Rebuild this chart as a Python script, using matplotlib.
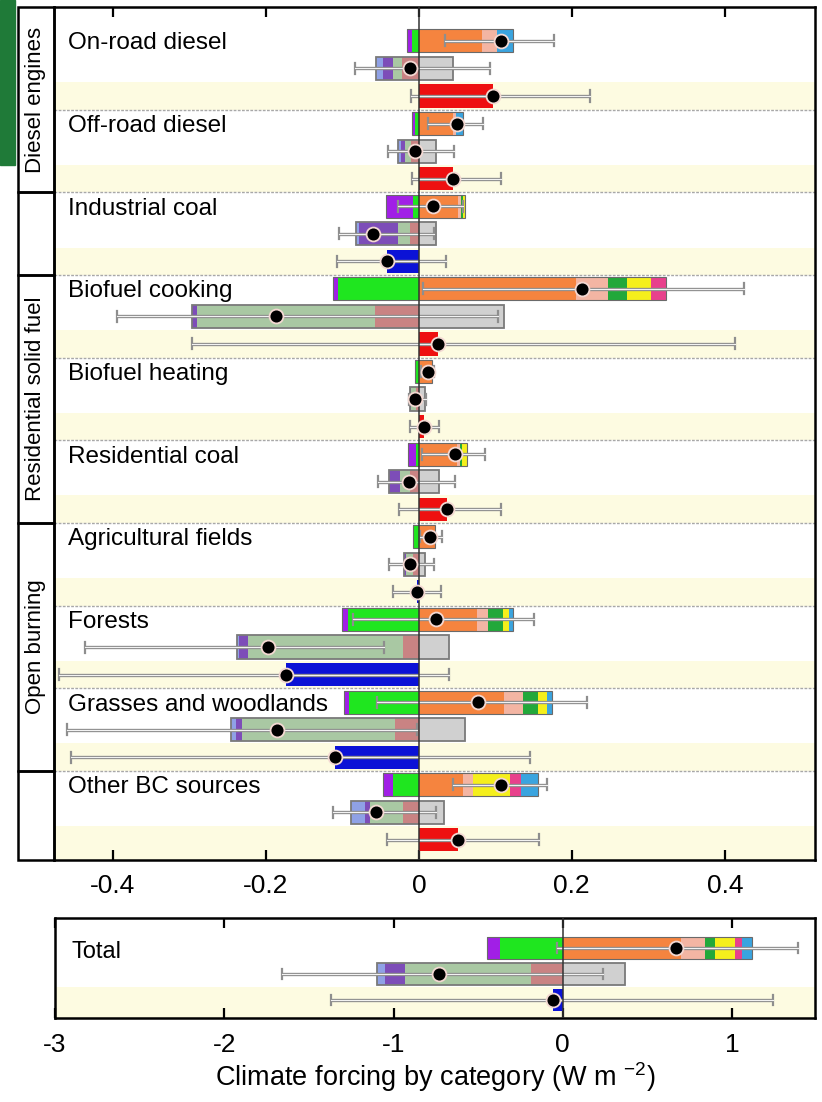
import matplotlib
matplotlib.use("Agg")
import matplotlib.pyplot as plt
from matplotlib.patches import Rectangle

plt.rcParams['font.family'] = ['Liberation Sans', 'DejaVu Sans']
plt.rcParams['mathtext.fontset'] = 'custom'
plt.rcParams['mathtext.rm'] = 'Liberation Sans'
plt.rcParams['axes.unicode_minus'] = False

categories = ["On-road diesel", "Off-road diesel", "Industrial coal", "Biofuel cooking",
              "Biofuel heating", "Residential coal", "Agricultural fields", "Forests",
              "Grasses and woodlands", "Other BC sources"]
groups = [("Diesel engines", 0, 2), ("", 2, 3), ("Residential solid fuel", 3, 6),
          ("Open burning", 6, 9), ("", 9, 10)]

# row 1 (widths of each stacked piece, W m-2), negative pieces from zero outwards
r1_green = [0.0095, 0.005, 0.008, 0.106, 0.004, 0.004, 0.007, 0.093, 0.091, 0.034]
r1_purple = [0.0062, 0.004, 0.035, 0.006, 0.001, 0.010, 0.001, 0.007, 0.007, 0.013]
r1_orange = [0.083, 0.045, 0.051, 0.206, 0.017, 0.050, 0.021, 0.076, 0.112, 0.058]
r1_pink = [0.019, 0.004, 0.004, 0.042, 0.0, 0.004, 0.0, 0.014, 0.024, 0.013]
r1_dkgreen = [0.0, 0.0, 0.003, 0.024, 0.0, 0.003, 0.0, 0.020, 0.020, 0.0]
r1_yellow = [0.0, 0.0, 0.003, 0.031, 0.0, 0.006, 0.0, 0.008, 0.011, 0.048]
r1_magenta = [0.0, 0.0, 0.0, 0.020, 0.0, 0.0, 0.0, 0.0, 0.0, 0.014]
r1_blue = [0.021, 0.009, 0.0, 0.0, 0.0, 0.0, 0.0, 0.005, 0.007, 0.023]
r1_mid = [0.107, 0.050, 0.018, 0.213, 0.012, 0.047, 0.014, 0.022, 0.077, 0.108]
r1_lo = [0.034, 0.012, -0.027, 0.005, 0.003, 0.004, 0.002, -0.086, -0.055, 0.045]
r1_hi = [0.177, 0.084, 0.058, 0.425, 0.020, 0.086, 0.030, 0.150, 0.220, 0.167]

# row 2
r2_rose = [0.022, 0.010, 0.012, 0.057, 0.004, 0.012, 0.007, 0.021, 0.031, 0.021]
r2_sage = [0.012, 0.008, 0.015, 0.233, 0.006, 0.013, 0.010, 0.203, 0.200, 0.043]
r2_purple = [0.013, 0.005, 0.051, 0.007, 0.002, 0.014, 0.002, 0.011, 0.008, 0.007]
r2_peri = [0.009, 0.004, 0.004, 0.0, 0.0, 0.0, 0.0, 0.003, 0.006, 0.018]
r2_gray = [0.045, 0.022, 0.023, 0.111, 0.008, 0.026, 0.008, 0.039, 0.061, 0.033]
r2_mid = [-0.012, -0.005, -0.060, -0.187, -0.005, -0.013, -0.012, -0.197, -0.186, -0.056]
r2_lo = [-0.084, -0.040, -0.105, -0.395, -0.013, -0.054, -0.039, -0.436, -0.460, -0.112]
r2_hi = [0.093, 0.046, 0.020, 0.103, 0.010, 0.047, 0.020, -0.046, -0.002, 0.022]

# row 3 (net)
r3_net = [0.097, 0.045, -0.042, 0.025, 0.007, 0.037, -0.002, -0.174, -0.110, 0.051]
r3_lo = [-0.010, -0.009, -0.107, -0.297, -0.012, -0.026, -0.034, -0.470, -0.455, -0.042]
r3_hi = [0.224, 0.107, 0.035, 0.414, 0.026, 0.108, 0.029, 0.039, 0.146, 0.157]

# total panel
tot_r1 = dict(green=0.37, purple=0.08, orange=0.70, pink=0.14, dkgreen=0.06,
              yellow=0.12, magenta=0.04, blue=0.06, mid=0.67, lo=-0.035, hi=1.39)
tot_r2 = dict(rose=0.19, sage=0.74, purple=0.12, peri=0.05, gray=0.37,
              mid=-0.73, lo=-1.66, hi=0.24)
tot_r3 = dict(net=-0.06, lo=-1.37, hi=1.24)

C1_NEG = ['#1fe61f', '#a11fe6']
C1_POS = ['#f5843f', '#f3b5a3', '#22a83a', '#f5ef1c', '#e8418c', '#3aa4df']
C2_NEG = ['#c98383', '#a9c8a3', '#7d4db8', '#8fa1e6']
C2_POS = ['#d0d0d0']
BAND = '#fdfbe1'
H = 0.84


def stack(ax, y, negs, poss, ncols, pcols):
    left = 0.0
    for w, c in zip(negs, ncols):
        if w > 0:
            ax.barh(y, -w, left=left, height=H, color=c, lw=0, zorder=2)
        left -= w
    neg_end = left
    left = 0.0
    for w, c in zip(poss, pcols):
        if w > 0:
            ax.barh(y, w, left=left, height=H, color=c, lw=0, zorder=2)
        left += w
    return neg_end, left


def errbar(ax, y, lo, hi):
    ax.plot([lo, hi], [y, y], color='#8e8e8e', lw=2.4, solid_capstyle='butt', zorder=4)
    ax.plot([lo, hi], [y, y], color='#f2f2f2', lw=0.8, zorder=4.1)
    for x in (lo, hi):
        ax.plot([x, x], [y - 0.2, y + 0.2], color='#8e8e8e', lw=1.6, zorder=4)


def dot(ax, y, x):
    ax.plot(x, y, 'o', ms=10, mfc='black', mec='#f3d8d2', mew=1.3, zorder=6)


def draw_set(ax, y, r1, r2, r3):
    n, p = stack(ax, y, [r1['green'], r1['purple']],
                 [r1['orange'], r1['pink'], r1['dkgreen'], r1['yellow'], r1['magenta'], r1['blue']],
                 C1_NEG, C1_POS)
    ax.add_patch(Rectangle((n, y - H / 2), p - n, H, fill=False, ec='#6a6a6a', lw=0.8, zorder=3))
    errbar(ax, y, r1['lo'], r1['hi'])
    dot(ax, y, r1['mid'])

    n, p = stack(ax, y + 1, [r2['rose'], r2['sage'], r2['purple'], r2['peri']], [r2['gray']],
                 C2_NEG, C2_POS)
    ax.add_patch(Rectangle((n, y + 1 - H / 2), p - n, H, fill=False, ec='#7a7a7a', lw=1.3, zorder=3))
    errbar(ax, y + 1, r2['lo'], r2['hi'])
    dot(ax, y + 1, r2['mid'])

    net = r3['net']
    ax.barh(y + 2, net, left=0, height=H, color='#ee1010' if net > 0 else '#0b12d6', lw=0, zorder=2)
    errbar(ax, y + 2, r3['lo'], r3['hi'])
    dot(ax, y + 2, net)


def style(ax, ticks, labels, pad):
    ax.set_xticks(ticks)
    ax.set_xticklabels(labels)
    ax.set_yticks([])
    ax.tick_params(axis='x', direction='in', top=True, bottom=True, length=7, width=1.6,
                   labelsize=19, pad=pad)
    for s in ax.spines.values():
        s.set_linewidth(1.8)
    ax.axvline(0, color='#333333', lw=1.1, zorder=5)


fig = plt.figure(figsize=(8.22, 11.02), dpi=100)
fig.patches.append(Rectangle((0, 1 - 165 / 1102), 15 / 822, 165 / 1102,
                             transform=fig.transFigure, color='#1f7a38', zorder=0))

YTOP, YBOT = -1.23, 29.73
ax = fig.add_axes([54 / 822, 1 - 860 / 1102, 761 / 822, 853 / 1102])
ax.set_xlim(-0.477, 0.518)
ax.set_ylim(YBOT, YTOP)

for i, name in enumerate(categories):
    y = 3 * i
    band_bot = YBOT if i == len(categories) - 1 else y + 2.5
    ax.axhspan(y + 1.5, band_bot, color=BAND, lw=0, zorder=0)
    if i > 0:
        ax.axhline(y - 0.5, color='#a8a8a8', lw=1.0, ls=(0, (2, 1)), zorder=1)
    ax.text(0.018, y + 0.31, name, transform=ax.get_yaxis_transform(), fontsize=17.5,
            va='baseline', ha='left', zorder=7)
    r1 = dict(green=r1_green[i], purple=r1_purple[i], orange=r1_orange[i], pink=r1_pink[i],
              dkgreen=r1_dkgreen[i], yellow=r1_yellow[i], magenta=r1_magenta[i], blue=r1_blue[i],
              mid=r1_mid[i], lo=r1_lo[i], hi=r1_hi[i])
    r2 = dict(rose=r2_rose[i], sage=r2_sage[i], purple=r2_purple[i], peri=r2_peri[i],
              gray=r2_gray[i], mid=r2_mid[i], lo=r2_lo[i], hi=r2_hi[i])
    r3 = dict(net=r3_net[i], lo=r3_lo[i], hi=r3_hi[i])
    draw_set(ax, y, r1, r2, r3)

style(ax, [-0.4, -0.2, 0, 0.2, 0.4], ['-0.4', '-0.2', '0', '0.2', '0.4'], 10)

# group label column
col = fig.add_axes([18 / 822, 1 - 860 / 1102, 36 / 822, 853 / 1102])
col.set_xlim(0, 1)
col.set_ylim(YBOT, YTOP)
col.axis('off')
for label, a, b in groups:
    top = YTOP if a == 0 else 3 * a - 0.5
    bot = YBOT if b == len(categories) else 3 * b - 0.5
    col.add_patch(Rectangle((0, top), 1, bot - top, fill=False, ec='black', lw=1.8, clip_on=False))
    if label:
        col.text(0.5, (top + bot) / 2, label, rotation=90, fontsize=16, ha='center', va='center')

# total panel
bx = fig.add_axes([55 / 822, 1 - 1018 / 1102, 760 / 822, 100 / 1102])
bx.set_xlim(-3, 1.49)
bx.set_ylim(2.69, -1.15)
bx.axhspan(1.5, 2.69, color=BAND, lw=0, zorder=0)
bx.text(0.022, 0.4, "Total", transform=bx.get_yaxis_transform(), fontsize=17,
        va='baseline', ha='left', zorder=7)
draw_set(bx, 0, tot_r1, tot_r2, tot_r3)
style(bx, [-3, -2, -1, 0, 1], ['-3', '-2', '-1', '0', '1'], 11)
bx.set_xlabel('Climate forcing by category (W m $^{-2}$)', fontsize=19.5, labelpad=2)

fig.savefig('out.png', dpi=100)
